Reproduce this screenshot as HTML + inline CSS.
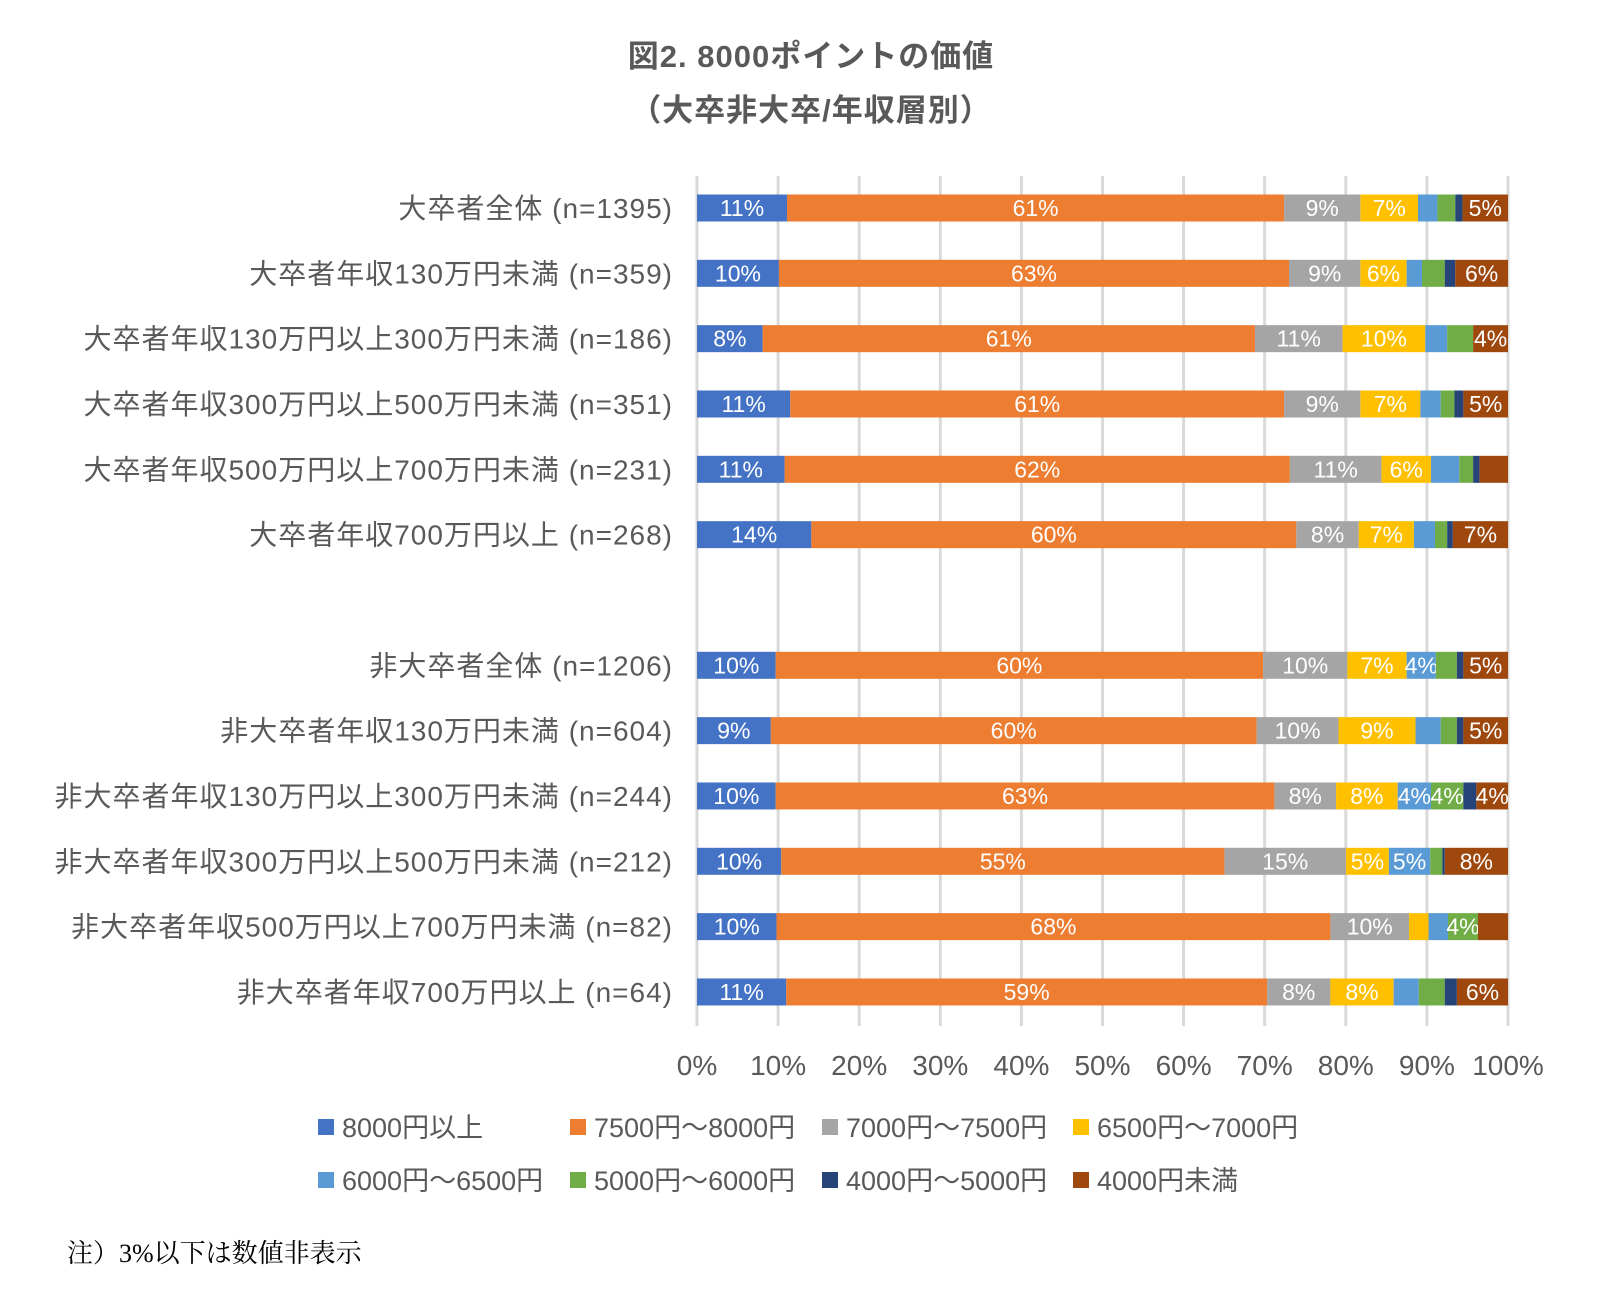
<!DOCTYPE html>
<html><head><meta charset="utf-8"><style>
html,body{margin:0;padding:0;background:#fff;}
svg{display:block;}
</style></head><body>
<svg id="chart" width="1615" height="1313" viewBox="0 0 1615 1313" xmlns="http://www.w3.org/2000/svg" font-family="'Liberation Sans','Noto Sans CJK JP',sans-serif">
<text x="811" y="67" text-anchor="middle" font-size="31" font-weight="bold" fill="#595959" letter-spacing="1">図2. 8000ポイントの価値</text>
<text x="811" y="121" text-anchor="middle" font-size="31" font-weight="bold" fill="#595959" letter-spacing="1">（大卒非大卒/年収層別）</text>
<g id="grid"></g><g id="bars"></g><g id="cats"></g><g id="ticks"></g><g id="legend"></g>
<text x="67" y="1262" font-size="26" fill="#000" font-family="'Liberation Serif','Noto Serif CJK SC',serif">注）3%以下は数値非表示</text>
</svg>
<script>
const categories=["大卒者全体 (n=1395)","大卒者年収130万円未満 (n=359)","大卒者年収130万円以上300万円未満 (n=186)","大卒者年収300万円以上500万円未満 (n=351)","大卒者年収500万円以上700万円未満 (n=231)","大卒者年収700万円以上 (n=268)",null,"非大卒者全体 (n=1206)","非大卒者年収130万円未満 (n=604)","非大卒者年収130万円以上300万円未満 (n=244)","非大卒者年収300万円以上500万円未満 (n=212)","非大卒者年収500万円以上700万円未満 (n=82)","非大卒者年収700万円以上 (n=64)"];
const seriesNames=["8000円以上","7500円～8000円","7000円～7500円","6500円～7000円","6000円～6500円","5000円～6000円","4000円～5000円","4000円未満"];
const s0=[11.1,10.1,8.1,11.5,10.8,14.1,null,9.7,9.1,9.7,10.4,9.8,11.0];
const s1=[61.3,62.9,60.7,60.9,62.3,59.8,null,60.1,59.9,61.5,54.7,68.3,59.3];
const s2=[9.4,8.8,10.8,9.4,11.3,7.7,null,10.4,10.1,7.6,15.0,9.7,7.8];
const s3=[7.1,5.7,10.2,7.4,6.1,6.8,null,7.3,9.5,7.6,5.3,2.4,7.8];
const s4=[2.4,1.9,2.7,2.5,3.5,2.6,null,3.6,3.1,4.1,5.1,2.4,3.1];
const s5=[2.2,2.8,3.2,1.7,1.7,1.5,null,2.6,2.0,4.0,1.5,3.7,3.2];
const s6=[0.9,1.3,0.0,1.1,0.8,0.7,null,0.8,0.8,1.6,0.3,0.0,1.5];
const s7=[5.6,6.5,4.3,5.5,3.5,6.8,null,5.5,5.5,3.9,7.8,3.7,6.3];
const labels0=["11%","10%","8%","11%","11%","14%",null,"10%","9%","10%","10%","10%","11%"];
const labels1=["61%","63%","61%","61%","62%","60%",null,"60%","60%","63%","55%","68%","59%"];
const labels2=["9%","9%","11%","9%","11%","8%",null,"10%","10%","8%","15%","10%","8%"];
const labels3=["7%","6%","10%","7%","6%","7%",null,"7%","9%","8%","5%","","8%"];
const labels4=["","","","","","",null,"4%","","4%","5%","",""];
const labels5=["","","","","","",null,"","","4%","","4%",""];
const labels6=["","","","","","",null,"","","","","",""];
const labels7=["5%","6%","4%","5%","","7%",null,"5%","5%","4%","8%","","6%"];
const tickLabels=["0%","10%","20%","30%","40%","50%","60%","70%","80%","90%","100%"];
const colors=["#4472C4","#ED7D31","#A5A5A5","#FFC000","#5B9BD5","#70AD47","#264478","#9E480E"];
const series=[s0,s1,s2,s3,s4,s5,s6,s7];
const labelSets=[labels0,labels1,labels2,labels3,labels4,labels5,labels6,labels7];
const NS="http://www.w3.org/2000/svg";
const X0=697,X1=1508,Y0=208,STEP=65.33,BH=27;
function xs(v){return X0+(X1-X0)*v/100;}
function ys(i){return Y0+STEP*i;}
function mk(tag,attrs,parent){const e=document.createElementNS(NS,tag);for(const k in attrs)e.setAttribute(k,attrs[k]);parent.appendChild(e);return e;}
const grid=document.getElementById('grid'),bars=document.getElementById('bars'),cats=document.getElementById('cats'),ticks=document.getElementById('ticks'),legend=document.getElementById('legend');
tickLabels.forEach((t,k)=>{
  const v=k*10;
  const l=mk('line',{x1:xs(v),x2:xs(v),y1:176,y2:1026,stroke:'#D9D9D9','stroke-width':3},grid);
  
  
  const tx=mk('text',{x:xs(v),y:1075,'text-anchor':'middle','font-size':28,fill:'#595959'},ticks);
  tx.textContent=t;
  
  
});
categories.forEach((c,i)=>{
  if(c===null)return;
  const cy=ys(i);
  const ct=mk('text',{x:673,y:cy+10,'text-anchor':'end','font-size':28,'letter-spacing':1,fill:'#595959'},cats);
  ct.textContent=c;
  
  
  let acc=0;
  const tot=series.reduce((a,s)=>a+s[i],0);
  series.forEach((s,k)=>{
    const v=s[i]/tot*100;
    if(v<=0){return;}
    const r=mk('rect',{x:xs(acc),y:cy-BH/2,width:xs(acc+v)-xs(acc),height:BH,fill:colors[k]},bars);
    
    
    const lab=labelSets[k][i];
    if(lab){
      const t=mk('text',{x:(xs(acc)+xs(acc+v))/2,y:cy+8,'text-anchor':'middle','font-size':23,fill:'#fff'},bars);
      t.textContent=lab;
      
      
    }
    acc+=v;
  });
});
const legX=[318,570,822,1073],legY=[1127,1180];
seriesNames.forEach((n,k)=>{
  const lx=legX[k%4],ly=legY[Math.floor(k/4)];
  const sq=mk('rect',{x:lx,y:ly-8,width:16,height:16,fill:colors[k]},legend);
  
  
  const t=mk('text',{x:lx+24,y:ly+10,'font-size':27,fill:'#595959'},legend);
  t.textContent=n;
  
  
});
</script>
</body></html>
